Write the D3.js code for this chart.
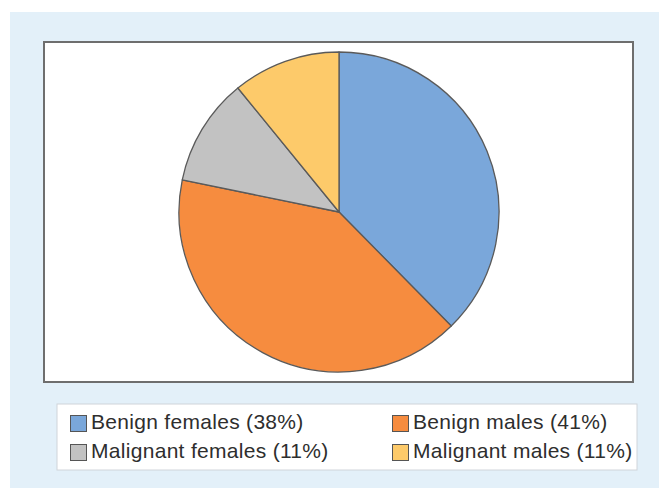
<!DOCTYPE html>
<html><head><meta charset="utf-8">
<script src="https://cdn.jsdelivr.net/npm/d3@7"></script>
<style>html,body{margin:0;padding:0;background:#fff;}svg{display:block;}</style>
</head><body>
<script>
const categories = ["Benign females", "Benign males", "Malignant females", "Malignant males"];
const values = [38, 41, 11, 11];
const colors = ["#7aa7da", "#f68c3f", "#c2c2c2", "#fdca6a"];
const legendLabels = ["Benign females (38%)", "Benign males (41%)", "Malignant females (11%)", "Malignant males (11%)"];

const W = 659, H = 488;
const svg = d3.select("body").append("svg").attr("width", W).attr("height", H);

svg.append("rect").attr("x", 10).attr("y", 12).attr("width", W - 10).attr("height", H - 12).attr("fill", "#e3f0f9");

// plot frame
svg.append("rect").attr("x", 44).attr("y", 42).attr("width", 589).attr("height", 340)
  .attr("fill", "#fff").attr("stroke", "#6e6e6e").attr("stroke-width", 2);

const cx = 339, cy = 212, r = 160;
const pie = d3.pie().sort(null).value(d => d.v);
const arcs = pie(categories.map((c, i) => ({c, v: values[i], col: colors[i]})));
const arc = d3.arc().innerRadius(0).outerRadius(r);
svg.append("g").attr("transform", `translate(${cx},${cy})`)
  .selectAll("path").data(arcs).join("path")
  .attr("d", arc).attr("fill", d => d.data.col)
  .attr("stroke", "#5a5a5a").attr("stroke-width", 1.3).attr("stroke-linejoin", "round");

// legend
svg.append("rect").attr("x", 57).attr("y", 404).attr("width", 580).attr("height", 66)
  .attr("fill", "#fff").attr("stroke", "#d0d4da").attr("stroke-width", 1);

const lx = [70, 392], ly = [415, 444];
const lg = svg.append("g");
legendLabels.forEach((lab, i) => {
  const col = i % 2, row = Math.floor(i / 2);
  lg.append("rect").attr("x", lx[col] + 0.5).attr("y", ly[row] + 0.5).attr("width", 16).attr("height", 16)
    .attr("fill", colors[i]).attr("stroke", "#555").attr("stroke-width", 1);
  lg.append("text").attr("x", lx[col] + 21).attr("y", ly[row] + 14)
    .attr("font-family", "Liberation Sans, Arial, sans-serif").attr("font-size", 21)
    .attr("letter-spacing", 0.3)
    .attr("fill", "#2e2e2e").text(lab);
});
</script>
</body></html>
